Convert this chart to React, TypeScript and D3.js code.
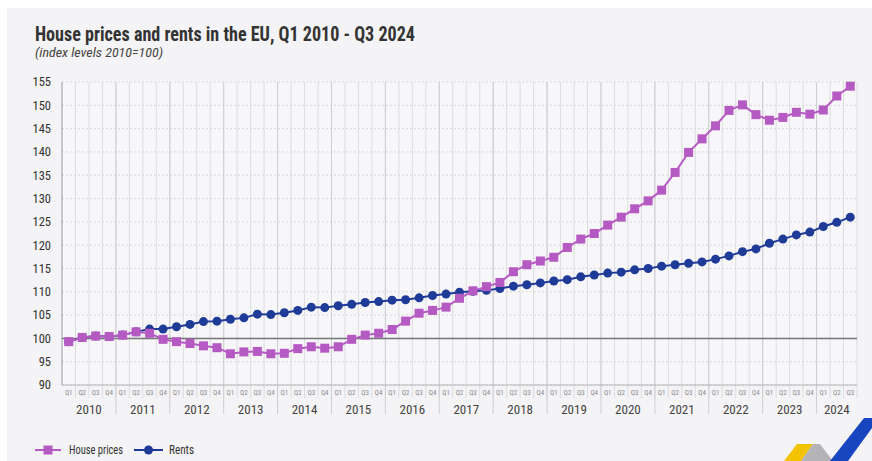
import React from "react";
import * as d3 from "d3";

const quarterNames = ["Q1", "Q2", "Q3", "Q4"];
const yearList = [2010, 2011, 2012, 2013, 2014, 2015, 2016, 2017, 2018, 2019, 2020, 2021, 2022, 2023, 2024];
const periods = yearList.flatMap((y) => quarterNames.map((q) => `${y}-${q}`)).slice(0, 59);

const housePrices = [
  99.3, 100.2, 100.5, 100.4, 100.7, 101.4, 101.1, 99.8, 99.3, 98.9, 98.4, 98.0,
  96.7, 97.1, 97.2, 96.7, 96.8, 97.8, 98.2, 97.9, 98.2, 99.8, 100.7, 101.1,
  101.9, 103.7, 105.4, 106.0, 106.7, 108.6, 110.2, 111.1, 112.0, 114.3, 115.8, 116.6,
  117.4, 119.5, 121.3, 122.5, 124.3, 126.0, 127.8, 129.5, 131.8, 135.6, 139.9, 142.8,
  145.6, 148.9, 150.1, 148.0, 146.8, 147.4, 148.5, 148.1, 149.0, 152.0, 154.1,
];

const rents = [
  99.3, 100.2, 100.5, 100.4, 100.7, 101.4, 102.0, 102.0, 102.5, 103.0, 103.6, 103.7,
  104.1, 104.4, 105.2, 105.1, 105.5, 106.0, 106.7, 106.6, 107.0, 107.3, 107.7, 107.9,
  108.2, 108.3, 108.7, 109.2, 109.5, 109.9, 110.1, 110.3, 110.7, 111.2, 111.5, 111.9,
  112.3, 112.6, 113.2, 113.6, 114.0, 114.2, 114.7, 115.0, 115.5, 115.8, 116.1, 116.4,
  117.0, 117.7, 118.6, 119.2, 120.4, 121.3, 122.2, 122.8, 124.0, 124.9, 126.0,
];

const yTicks = [90, 95, 100, 105, 110, 115, 120, 125, 130, 135, 140, 145, 150, 155];

const TITLE = "House prices and rents in the EU, Q1 2010 - Q3 2024";
const SUBTITLE = "(index levels 2010=100)";

const W = 872;
const H = 461;
const FONT = "'Liberation Sans Narrow', 'Roboto Condensed', Roboto, sans-serif";
const MAGENTA = "#b65ac3";
const BLUE = "#1f3b98";
const BG = "#f4f3f5";

export default function App() {
  const x = d3.scaleBand<string>().domain(periods).range([62, 857]).padding(0);
  const y = d3.scaleLinear().domain([90, 155]).range([385, 82]);
  const bw = x.bandwidth();
  const cx = (p: string) => (x(p) as number) + bw / 2;

  const line = d3
    .line<number>()
    .x((_, i) => cx(periods[i]))
    .y((d) => y(d));

  const yearGroups = yearList.map((yr) => {
    const ps = periods.filter((p) => p.startsWith(String(yr)));
    const x0 = x(ps[0]) as number;
    const x1 = (x(ps[ps.length - 1]) as number) + bw;
    return { yr, x0, x1 };
  });

  const [y0, y1] = y.range();

  return (
    <div style={{ position: "absolute", left: 0, top: 0 }}>
      <svg width={W} height={H} style={{ display: "block", fontFamily: FONT }}>
        <rect x={0} y={0} width={W} height={H} fill="#ffffff" />
        <rect x={7} y={8} width={W - 7} height={H - 8} fill={BG} />

        <text x={35} y={41} fontSize={20} fontWeight="bold" fill="#333" textLength={380} lengthAdjust="spacingAndGlyphs">
          {TITLE}
        </text>
        <text x={35} y={57} fontSize={12} fontStyle="italic" fill="#444" textLength={128} lengthAdjust="spacingAndGlyphs">
          {SUBTITLE}
        </text>

        <rect x={62} y={y1} width={857 - 62} height={y0 - y1} fill="#f7f6f8" />

        {yTicks.map((t) => (
          <line key={"h" + t} x1={62} x2={857} y1={y(t)} y2={y(t)} stroke="#d9d8dc" strokeWidth={1} strokeDasharray="2,2" />
        ))}

        {periods.map((p, i) =>
          i === 0 ? null : (
            <line key={"v" + p} x1={x(p)} x2={x(p)} y1={y1} y2={398} stroke="#dddce0" strokeWidth={1} />
          )
        )}
        <line x1={857} x2={857} y1={y1} y2={398} stroke="#dddce0" strokeWidth={1} />

        {yearGroups.slice(1).map((g) => (
          <line key={"ys" + g.yr} x1={g.x0} x2={g.x0} y1={y1} y2={414} stroke="#cfced2" strokeWidth={1} />
        ))}

        {yTicks.map((t) => (
          <text key={"yt" + t} x={51} y={y(t)} dy="0.35em" textAnchor="end" fontSize={12.5} fill="#333">
            {t}
          </text>
        ))}

        <line x1={62} x2={62} y1={y1} y2={y0} stroke="#9a999d" strokeWidth={1} />
        <line x1={62} x2={857} y1={y0} y2={y0} stroke="#b5b4b8" strokeWidth={1} />
        <line x1={62} x2={857} y1={y(100)} y2={y(100)} stroke="#76757a" strokeWidth={1.5} />

        {periods.map((p) => (
          <text key={"q" + p} x={cx(p)} y={395} textAnchor="middle" fontSize={7} fill="#8a898e">
            {p.split("-")[1]}
          </text>
        ))}

        {yearGroups.map((g) => (
          <text key={"yl" + g.yr} x={(g.x0 + g.x1) / 2} y={414} textAnchor="middle" fontSize={13} fill="#444">
            {g.yr}
          </text>
        ))}

        <path d={line(rents) || ""} fill="none" stroke={BLUE} strokeWidth={2} />
        {rents.map((v, i) => (
          <circle key={"r" + i} cx={cx(periods[i])} cy={y(v)} r={4.5} fill={BLUE} />
        ))}

        <path d={line(housePrices) || ""} fill="none" stroke={MAGENTA} strokeWidth={2} />
        {housePrices.map((v, i) => (
          <rect key={"hp" + i} x={cx(periods[i]) - 4.5} y={y(v) - 4.5} width={9} height={9} fill={MAGENTA} />
        ))}

        <line x1={35} x2={61} y1={450} y2={450} stroke={MAGENTA} strokeWidth={2} />
        <rect x={43.5} y={445.5} width={9} height={9} fill={MAGENTA} />
        <text x={69} y={450} dy="0.35em" fontSize={12} fill="#333" textLength={54} lengthAdjust="spacingAndGlyphs">House prices</text>
        <line x1={134} x2={163} y1={450} y2={450} stroke={BLUE} strokeWidth={2} />
        <circle cx={148.5} cy={450} r={4.5} fill={BLUE} />
        <text x={169} y={450} dy="0.35em" fontSize={12} fill="#333" textLength={25} lengthAdjust="spacingAndGlyphs">Rents</text>

        <polygon points="784,461 797,444 813,444 801,461" fill="#f3c300" />
        <polygon points="801,461 813,444 820,444 833,461" fill="#b4b3b7" />
        <polygon points="830,461 864,418 872,418 872,428 848,461" fill="#1746c0" />
      </svg>
    </div>
  );
}
